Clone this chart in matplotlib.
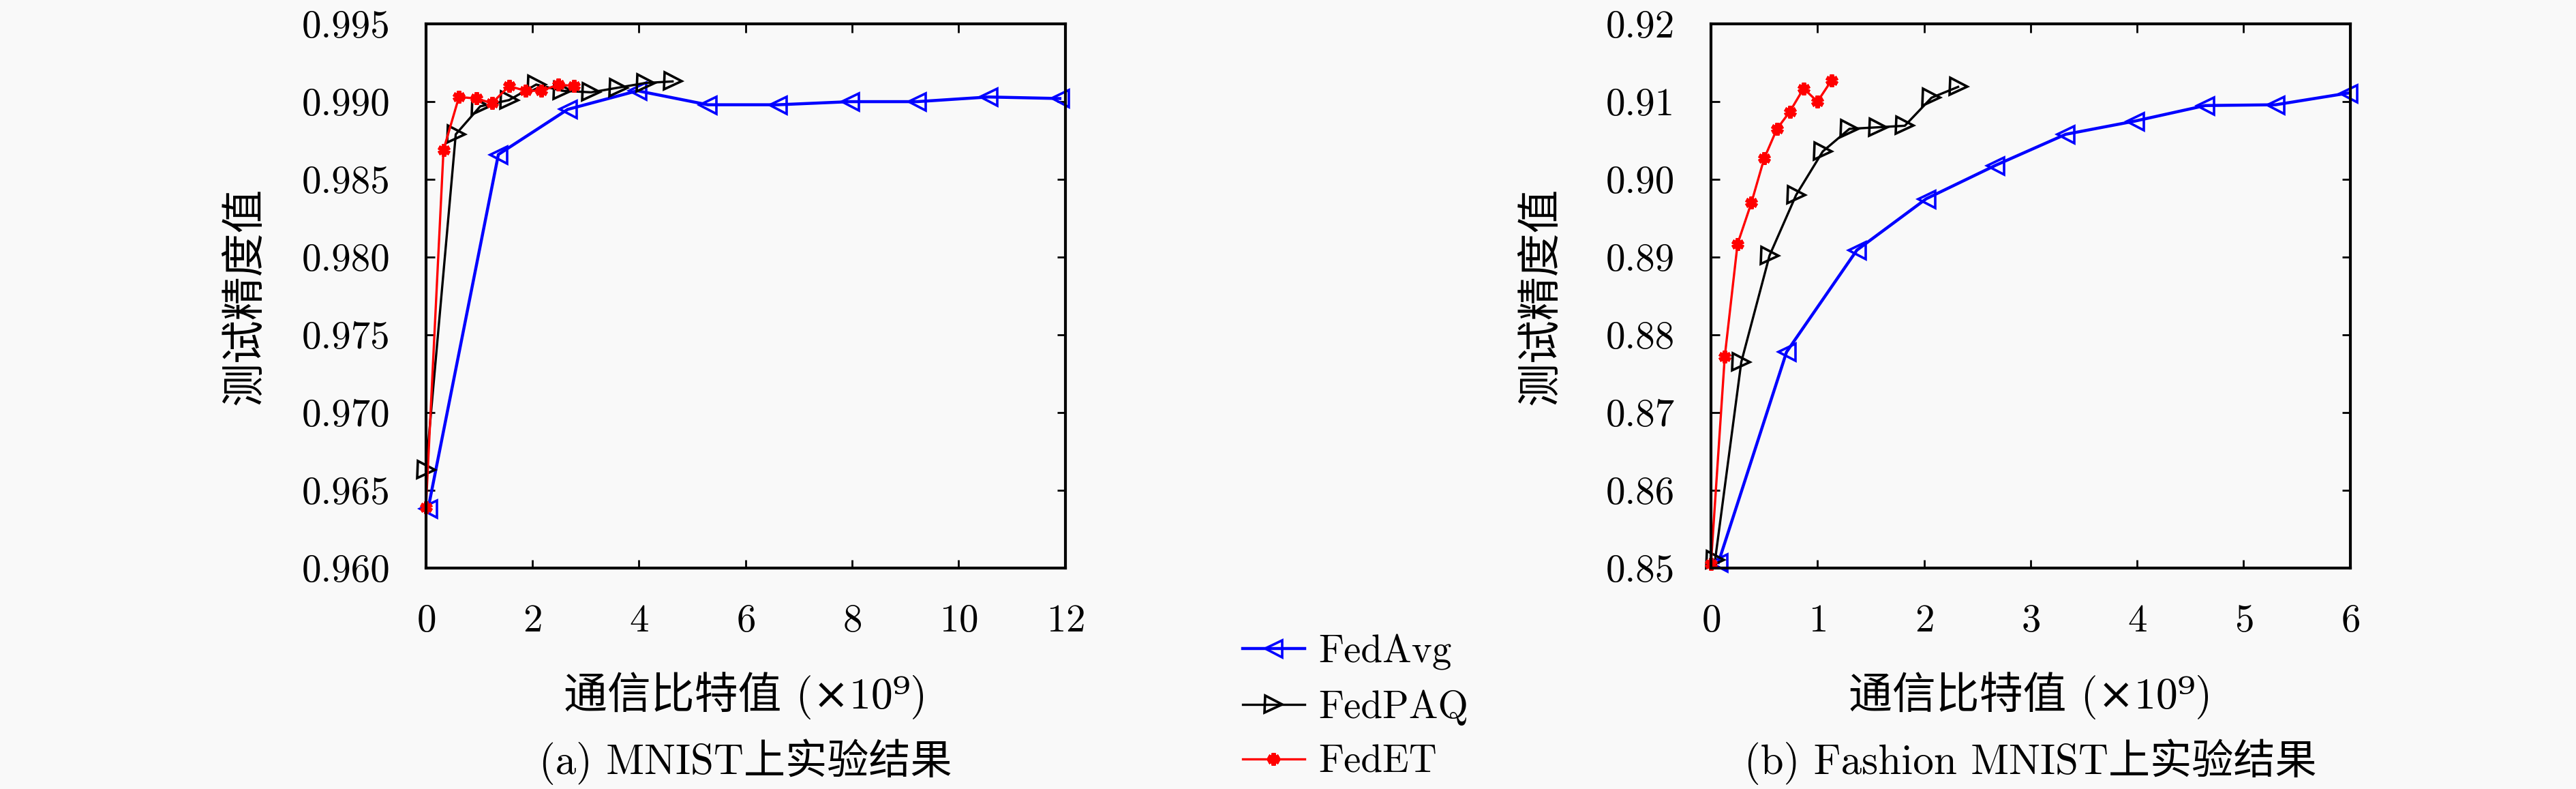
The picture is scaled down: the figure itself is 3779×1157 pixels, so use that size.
import matplotlib
matplotlib.use('Agg')
import matplotlib.pyplot as plt
from matplotlib.ticker import FormatStrFormatter

plt.rcParams['font.family'] = ['cmr10', 'DejaVu Serif', 'Noto Sans CJK SC']
plt.rcParams['mathtext.fontset'] = 'cm'
plt.rcParams['axes.formatter.use_mathtext'] = True

# (a) MNIST
mnist_fedavg_x = [0.04, 1.36, 2.66, 3.97, 5.29, 6.61, 7.96, 9.22, 10.56, 11.9]
mnist_fedavg_y = [0.9638, 0.9866, 0.9895, 0.9907, 0.9898, 0.9898, 0.9900, 0.9900, 0.9903, 0.9902]
mnist_fedpaq_x = [0.0, 0.56, 1.02, 1.56, 2.07, 2.56, 3.10, 3.61, 4.12, 4.63]
mnist_fedpaq_y = [0.9663, 0.9879, 0.9897, 0.9901, 0.9911, 0.9907, 0.9906, 0.9909, 0.9912, 0.9913]
mnist_fedet_x = [0.0, 0.33, 0.62, 0.95, 1.24, 1.56, 1.87, 2.17, 2.49, 2.78]
mnist_fedet_y = [0.9639, 0.9869, 0.9903, 0.9902, 0.9899, 0.9910, 0.9907, 0.9907, 0.9911, 0.9910]

# (b) Fashion MNIST
fashion_fedavg_x = [0.07, 0.71, 1.37, 2.02, 2.67, 3.33, 3.98, 4.64, 5.30, 5.98]
fashion_fedavg_y = [0.8507, 0.8778, 0.8909, 0.8975, 0.9018, 0.9058, 0.9075, 0.9095, 0.9096, 0.9111]
fashion_fedpaq_x = [0.04, 0.285, 0.55, 0.80, 1.05, 1.30, 1.565, 1.82, 2.07, 2.32]
fashion_fedpaq_y = [0.8511, 0.8765, 0.8902, 0.8980, 0.9036, 0.9065, 0.9067, 0.9069, 0.9105, 0.9119]
fashion_fedet_x = [0.0, 0.13, 0.25, 0.38, 0.50, 0.62, 0.74, 0.87, 1.00, 1.13]
fashion_fedet_y = [0.8505, 0.8772, 0.8917, 0.8970, 0.9027, 0.9065, 0.9087, 0.9117, 0.9100, 0.9127]

labels = ['FedAvg', 'FedPAQ', 'FedET']
ylabel = '测试精度值'
xlabel = '通信比特值 (×10⁹)'
captions = ['(a) MNIST上实验结果', '(b) Fashion MNIST上实验结果']

bg = '#f9f9f9'
fig = plt.figure(figsize=(37.8, 11.57), dpi=100, facecolor=bg)
ax1 = fig.add_axes([0.1653, 0.28, 0.2481, 0.6897])
ax2 = fig.add_axes([0.664, 0.28, 0.2481, 0.6897])


def draw(ax, avg, paq, et):
    ax.set_facecolor(bg)
    ax.plot(avg[0], avg[1], color='blue', lw=3.2, marker='<', ms=18,
            mfc='none', mew=2.6, clip_on=False, label=labels[0])
    ax.plot(paq[0], paq[1], color='black', lw=2.4, marker='>', ms=18,
            mfc='none', mew=2.6, clip_on=False, label=labels[1])
    ax.plot(et[0], et[1], color='red', lw=2.4, marker=(6, 2, 0), ms=13,
            mew=4.5, clip_on=False, label=labels[2])
    for s in ax.spines.values():
        s.set_linewidth(3)
    ax.tick_params(direction='in', top=True, right=True, length=9, width=2,
                   labelsize=41, pad=38)
    ax.set_ylabel(ylabel, fontsize=46)
    ax.set_xlabel(xlabel, fontsize=46)
    ax.xaxis.set_label_coords(0.5, -0.19)


draw(ax1, (mnist_fedavg_x, mnist_fedavg_y), (mnist_fedpaq_x, mnist_fedpaq_y),
     (mnist_fedet_x, mnist_fedet_y))
ax1.set_xlim(0, 12)
ax1.set_ylim(0.960, 0.995)
ax1.set_xticks(range(0, 13, 2))
ax1.set_yticks([0.960, 0.965, 0.970, 0.975, 0.980, 0.985, 0.990, 0.995])
ax1.yaxis.set_major_formatter(FormatStrFormatter('%.3f'))
ax1.yaxis.set_label_coords(-0.25, 0.5)

draw(ax2, (fashion_fedavg_x, fashion_fedavg_y), (fashion_fedpaq_x, fashion_fedpaq_y),
     (fashion_fedet_x, fashion_fedet_y))
ax2.set_xlim(0, 6)
ax2.set_ylim(0.85, 0.92)
ax2.set_xticks(range(0, 7))
ax2.set_yticks([0.85, 0.86, 0.87, 0.88, 0.89, 0.90, 0.91, 0.92])
ax2.yaxis.set_major_formatter(FormatStrFormatter('%.2f'))
ax2.yaxis.set_label_coords(-0.233, 0.5)

fig.text(0.2893, 0.034, captions[0], fontsize=44, ha='center', va='center')
fig.text(0.788, 0.034, captions[1], fontsize=44, ha='center', va='center')

h, l = ax1.get_legend_handles_labels()
fig.legend(h, l, loc='center', bbox_to_anchor=(0.526, 0.104), frameon=False,
           fontsize=41, handlelength=1.6, handletextpad=0.35, labelspacing=0.5)

fig.savefig('out.png', dpi=100, facecolor=bg)
